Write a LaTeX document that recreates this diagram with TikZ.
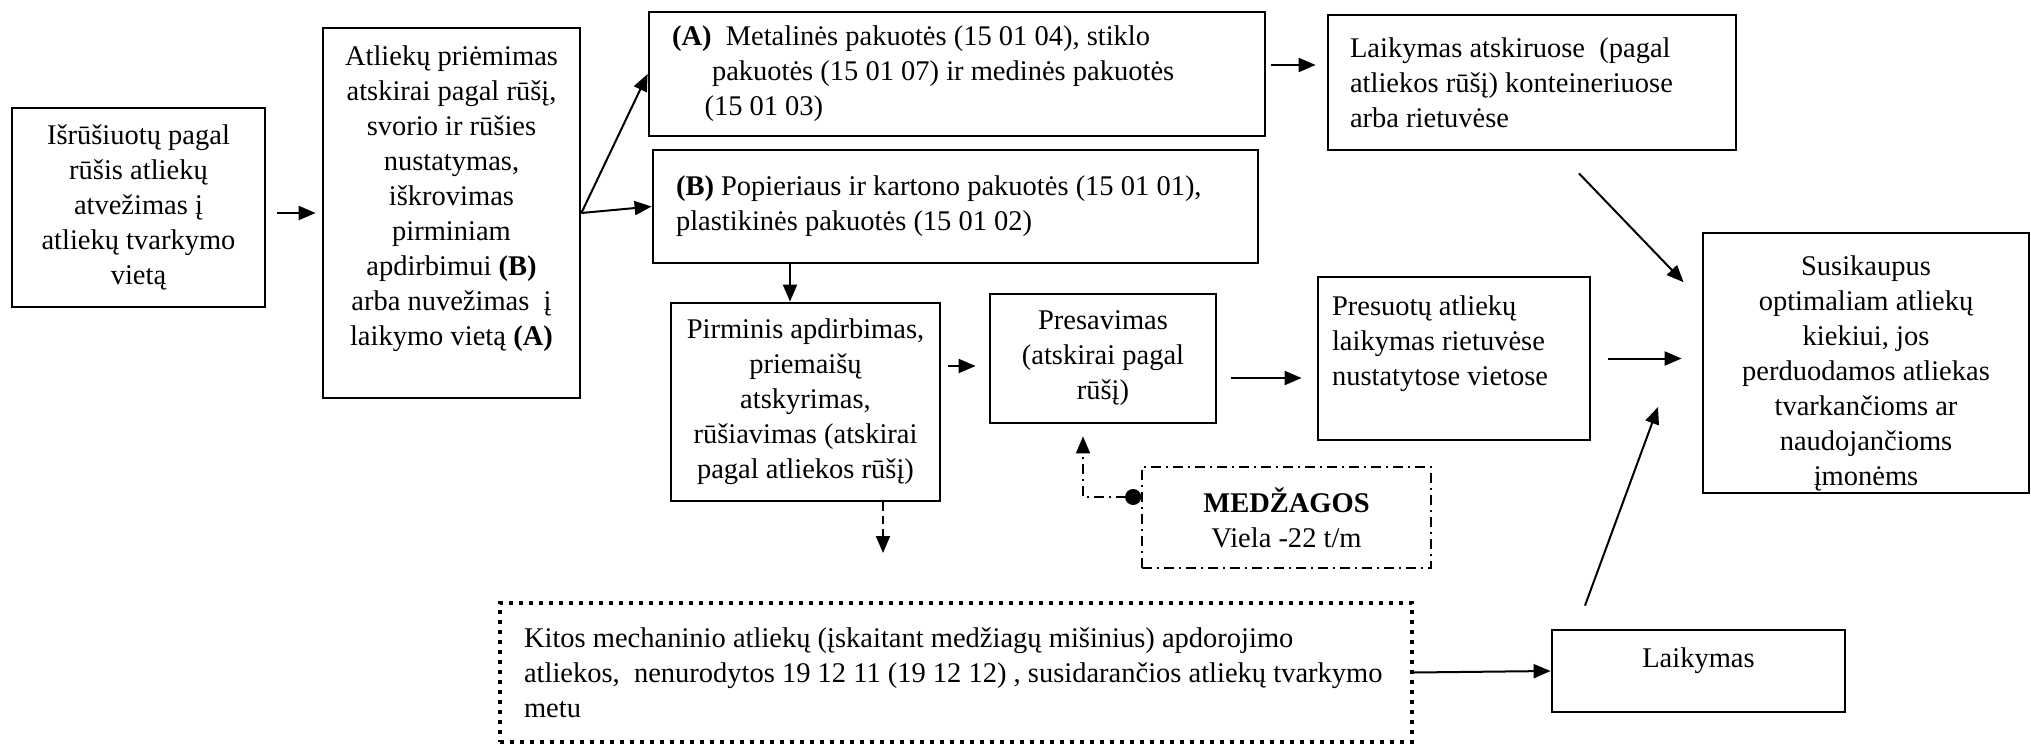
\documentclass[tikz,border=0pt]{standalone}
\usepackage{fontspec}
\setmainfont{Liberation Serif}
\usepackage{tikz}
\usetikzlibrary{arrows.meta,calc}
\newlength{\pxu}
\setlength{\pxu}{0.4pt}
\newcommand{\diafont}{\fontsize{11.4}{14}\selectfont}
% fixed size cells: width, height (px), text
\newcommand{\cellc}[3]{\parbox[c][#2\pxu][c]{#1\pxu}{\centering #3}}
\newcommand{\celll}[4]{\parbox[c][#2\pxu][c]{#1\pxu}{\raggedright\leftskip=#3\pxu\relax #4}}
\tikzset{
  box/.style={draw, line width=1.1pt, inner sep=0pt, font=\diafont},
  dotbox/.style={box, line width=1.3pt, dash pattern=on 1.6pt off 2.4pt},
  dashdotbox/.style={box, line width=0.7pt, dash pattern=on 4pt off 2pt on 0.8pt off 2pt},
  arr/.style={line width=0.8pt, -{Triangle[length=6.8pt,width=5.6pt]}},
  dasharr/.style={arr, dash pattern=on 3.3pt off 2pt},
  dotconn/.style={line width=0.7pt, dash pattern=on 4pt off 2pt on 0.8pt off 2pt,
    {Circle[length=6.4pt]}-{Triangle[length=6.8pt,width=5.6pt]}}
}

\begin{document}
\begin{tikzpicture}[x=0.4pt,y=-0.4pt]
  \useasboundingbox (0,0) rectangle (2031,745);

  % Boxes
  \node[box] (b1) at (138.5,207.5) {\cellc{253}{199}{Išrūšiuotų pagal\\ rūšis atliekų\\ atvežimas į\\ atliekų tvarkymo\\ vietą}};
  \node[box] (b2) at (451.5,213) {\cellc{257}{370}{Atliekų priėmimas\\ atskirai pagal rūšį,\\ svorio ir rūšies\\ nustatymas,\\ iškrovimas\\ pirminiam\\ apdirbimui \textbf{(B)}\\ arba nuvežimas\ \ į\\ laikymo vietą \textbf{(A)}\\ \mbox{}}};
  \node[box] (bA) at (957,74) {\celll{616}{124}{23}{\textbf{(A)}\ \ Metalinės pakuotės (15 01 04), stiklo\\ \hspace*{16pt}pakuotės (15 01 07) ir medinės pakuotės\\ \hspace*{13pt}(15 01 03)}};
  \node[box] (bB) at (955.5,206.5) {\celll{605}{113}{23}{\textbf{(B)} Popieriaus ir kartono pakuotės (15 01 01),\\ plastikinės pakuotės (15 01 02)}};
  \node[box] (lt) at (1532,82.5) {\celll{408}{135}{22}{Laikymas atskiruose\ \ (pagal\\ atliekos rūšį) konteineriuose\\ arba rietuvėse}};
  \node[box] (pirm) at (805.5,402) {\cellc{269}{198}{Pirminis apdirbimas,\\ priemaišų\\ atskyrimas,\\ rūšiavimas (atskirai\\ pagal atliekos rūšį)}};
  \node[box] (pres) at (1103,358.5) {\cellc{226}{129}{Presavimas\\ (atskirai pagal\\ rūšį)}};
  \node[box] (pt) at (1454,358.5) {\celll{272}{163}{14}{Presuotų atliekų\\ laikymas rietuvėse\\ nustatytose vietose\\ \mbox{}}};
  \node[box] (fin) at (1866,363) {\cellc{326}{260}{\vspace*{21\pxu}Susikaupus\\ optimaliam atliekų\\ kiekiui, jos\\ perduodamos atliekas\\ tvarkančioms ar\\ naudojančioms\\ įmonėms}};
  \node[dashdotbox] (medz) at (1286.5,517.5) {\cellc{289}{101}{\textbf{MEDŽAGOS}\\ Viela -22 t/m}};
  \node[dotbox] (kit) at (956,672.5) {\celll{912}{139}{24}{Kitos mechaninio atliekų (įskaitant medžiagų mišinius) apdorojimo\\ \mbox{atliekos,\ \ nenurodytos 19 12 11 (19 12 12) , susidarančios atliekų tvarkymo}\\ metu}};
  \node[box] (lb) at (1698.5,671) {\cellc{293}{82}{Laikymas\par\vspace*{20\pxu}}};

  % free ends
  \coordinate (droptip) at (883,553);
  \coordinate (lbtip) at (1658,407);
  \coordinate (aout) at ($(bA.east)+(0,-9)$);
  \coordinate (bdrop) at ($(pirm.north)+(-15.5,0)$);
  \coordinate (pin) at ($(pres.west)+(0,7.5)$);
  \coordinate (ptin) at ($(pt.west)+(0,19.5)$);

  % Arrows
  \draw[arr, shorten <=4.4pt, shorten >=2.4pt] (b1.east |- b2.west) -- (b2.west);
  \draw[arr] (b2.east) -- (bA.west);
  \draw[arr] (b2.east) -- (bB.west);
  \draw[arr, shorten <=2pt, shorten >=4.4pt] (aout) -- (aout -| lt.west);
  \draw[arr] (bdrop |- bB.south) -- (bdrop);
  \draw[arr, shorten <=2.8pt, shorten >=5.2pt] (pirm.east |- pin) -- (pin);
  \draw[arr, shorten <=5.6pt, shorten >=6pt] (pres.east |- ptin) -- (ptin);
  \draw[arr, shorten <=6.8pt, shorten >=8pt] (pt.east) -- (pt.east -| fin.west);
  \draw[arr, shorten <=12.2pt, shorten >=10.4pt] ($(lt.south)+(25.8,0)$) -- ($(fin.west)+(0,-62)$);
  \draw[arr, shorten <=9.8pt] ($(lb.north)+(-122,0)$) -- (lbtip);
  \draw[arr] (kit.east) -- (lb.west);
  \draw[dasharr] ($(pirm.south)+(77.5,0)$) -- (droptip);
  \draw[dotconn, shorten >=4.8pt] ($(medz.west)+(0,-20.5)$) -| ($(pres.south)+(-20,0)$);
\end{tikzpicture}
\end{document}
